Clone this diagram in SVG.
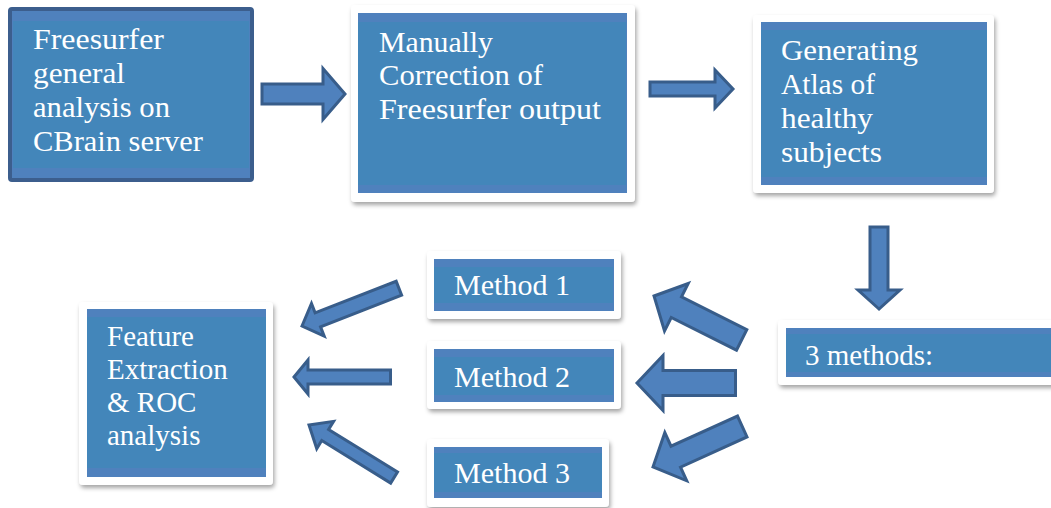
<svg xmlns="http://www.w3.org/2000/svg" width="1051" height="508" viewBox="0 0 1051 508">
  <defs>
    <filter id="shadow" x="-10%" y="-10%" width="125%" height="130%">
      <feDropShadow dx="1.5" dy="3" stdDeviation="2" flood-color="#000" flood-opacity="0.35"/>
    </filter>
  </defs>
  <style>
    .frame { fill: #ffffff; filter: url(#shadow); }
    .band { fill: #4f81bd; }
    .body { fill: #4386ba; }
    .dark { fill: #4f81bd; stroke: #3c5e8d; stroke-width: 4; }
    .arrow { fill: #4f81bd; stroke: #385d8a; stroke-width: 3; stroke-linejoin: miter; }
    .cam { font-family: "Liberation Serif", "DejaVu Serif", serif; font-size: 29px; fill: #ffffff; }
    .tnr { font-family: "Liberation Serif", "Times New Roman", serif; font-size: 29px; fill: #ffffff; }
  </style>

  <!-- Connectors: block arrows -->
  <g id="connectors">
    <!-- Freesurfer -> Manual correction -->
    <polygon class="arrow" transform="translate(345,94) rotate(180)" points="0,0 22,-25.5 22,-10 83,-10 83,10 22,10 22,25.5"/>
    <!-- Manual correction -> Atlas -->
    <polygon class="arrow" transform="translate(733,89) rotate(180)" points="0,0 18,-19 18,-7 83,-7 83,7 18,7 18,19"/>
    <!-- Atlas -> 3 methods -->
    <polygon class="arrow" transform="translate(879,309) rotate(-90)" points="0,0 19,-21 19,-9 82,-9 82,9 19,9 19,21"/>
    <!-- 3 methods -> Method 1 / 2 / 3 -->
    <polygon class="arrow" transform="translate(654,296) rotate(26.57)" points="0,0 25,-26.5 25,-11.5 98,-11.5 98,11.5 25,11.5 25,26.5"/>
    <polygon class="arrow" transform="translate(637,383)" points="0,0 26,-27.5 26,-12.5 98.5,-12.5 98.5,12.5 26,12.5 26,27.5"/>
    <polygon class="arrow" transform="translate(653,467) rotate(-24.4)" points="0,0 25,-26.5 25,-11.5 98,-11.5 98,11.5 25,11.5 25,26.5"/>
    <!-- Method 1 / 2 / 3 -> Feature extraction -->
    <polygon class="arrow" transform="translate(302,326) rotate(-21.3)" points="0,0 17,-17.5 17,-7.5 104,-7.5 104,7.5 17,7.5 17,17.5"/>
    <polygon class="arrow" transform="translate(294,377)" points="0,0 14,-17 14,-7 96.5,-7 96.5,7 14,7 14,17"/>
    <polygon class="arrow" transform="translate(309,425) rotate(31.7)" points="0,0 19,-16 19,-6.5 100,-6.5 100,6.5 19,6.5 19,16"/>
  </g>

  <!-- Freesurfer general analysis -->
  <g id="node-freesurfer">
    <rect class="dark" x="10" y="9" width="242" height="171" rx="2"/>
    <rect class="body" x="13" y="21" width="236" height="147"/>
    <text class="cam" x="33" y="49" textLength="131" lengthAdjust="spacingAndGlyphs">Freesurfer</text>
    <text class="cam" x="33" y="83" textLength="92" lengthAdjust="spacingAndGlyphs">general</text>
    <text class="cam" x="33" y="117" textLength="137" lengthAdjust="spacingAndGlyphs">analysis on</text>
    <text class="cam" x="33" y="151" textLength="170" lengthAdjust="spacingAndGlyphs">CBrain server</text>
  </g>

  <!-- Manual correction -->
  <g id="node-correction">
    <rect class="frame" x="351" y="5" width="284" height="197" rx="4"/>
    <rect class="band" x="358" y="13" width="269" height="180"/>
    <rect class="body" x="358" y="22" width="268" height="163"/>
    <text class="cam" x="379" y="52" textLength="114" lengthAdjust="spacingAndGlyphs">Manually</text>
    <text class="cam" x="379" y="85" textLength="164" lengthAdjust="spacingAndGlyphs">Correction of</text>
    <text class="cam" x="379" y="119" textLength="222" lengthAdjust="spacingAndGlyphs">Freesurfer output</text>
  </g>

  <!-- Atlas generation -->
  <g id="node-atlas">
    <rect class="frame" x="753" y="15" width="241" height="178" rx="4"/>
    <rect class="band" x="761" y="22" width="226" height="163"/>
    <rect class="body" x="761" y="30" width="226" height="147"/>
    <text class="cam" x="781" y="60" textLength="137" lengthAdjust="spacingAndGlyphs">Generating</text>
    <text class="cam" x="781" y="94" textLength="94" lengthAdjust="spacingAndGlyphs">Atlas of</text>
    <text class="cam" x="781" y="128" textLength="92" lengthAdjust="spacingAndGlyphs">healthy</text>
    <text class="cam" x="781" y="162" textLength="101" lengthAdjust="spacingAndGlyphs">subjects</text>
  </g>

  <!-- 3 methods -->
  <g id="node-methods">
    <rect class="frame" x="778" y="320" width="290" height="65" rx="4"/>
    <rect class="band" x="786" y="328" width="280" height="49"/>
    <rect class="body" x="786" y="334" width="280" height="38"/>
    <text class="tnr" x="805" y="365">3 methods:</text>
  </g>

  <!-- Method 1 -->
  <g id="node-method1">
    <rect class="frame" x="427" y="251" width="194" height="68" rx="4"/>
    <rect class="band" x="434" y="259" width="180" height="52"/>
    <rect class="body" x="434" y="267" width="179" height="36"/>
    <text class="cam" x="454" y="295" textLength="116" lengthAdjust="spacingAndGlyphs">Method 1</text>
  </g>

  <!-- Method 2 -->
  <g id="node-method2">
    <rect class="frame" x="427" y="341" width="194" height="68" rx="4"/>
    <rect class="band" x="434" y="349" width="180" height="53"/>
    <rect class="body" x="434" y="357" width="179" height="38"/>
    <text class="cam" x="454" y="387" textLength="116" lengthAdjust="spacingAndGlyphs">Method 2</text>
  </g>

  <!-- Method 3 -->
  <g id="node-method3">
    <rect class="frame" x="427" y="439" width="182" height="68" rx="4"/>
    <rect class="band" x="434" y="447" width="168" height="51"/>
    <rect class="body" x="434" y="453" width="168" height="39"/>
    <text class="cam" x="454" y="483" textLength="116" lengthAdjust="spacingAndGlyphs">Method 3</text>
  </g>

  <!-- Feature extraction & ROC analysis -->
  <g id="node-feature">
    <rect class="frame" x="79" y="302" width="194" height="183" rx="4"/>
    <rect class="band" x="87" y="309" width="179" height="168"/>
    <rect class="body" x="87" y="317" width="179" height="151"/>
    <text class="tnr" x="107" y="346">Feature</text>
    <text class="tnr" x="107" y="379">Extraction</text>
    <text class="tnr" x="107" y="412">&amp; ROC</text>
    <text class="tnr" x="107" y="445">analysis</text>
  </g>
</svg>
